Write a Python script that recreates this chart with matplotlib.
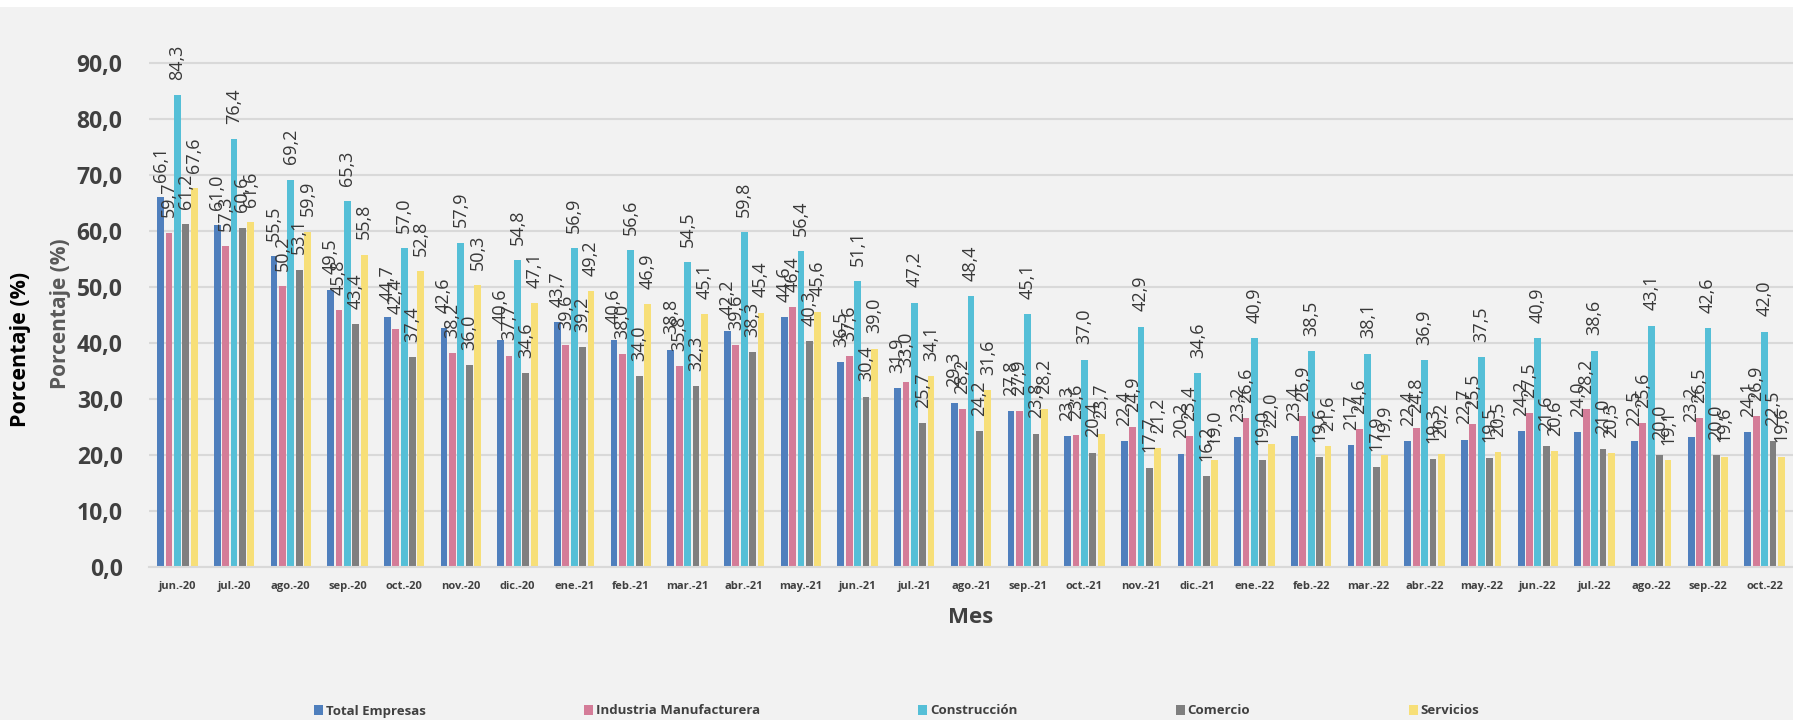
import numpy as np
import matplotlib.pyplot as plt
from matplotlib.patches import Rectangle

plt.rcParams['font.family'] = ['Open Sans', 'DejaVu Sans']

meses = ['jun.-20', 'jul.-20', 'ago.-20', 'sep.-20', 'oct.-20', 'nov.-20', 'dic.-20',
         'ene.-21', 'feb.-21', 'mar.-21', 'abr.-21', 'may.-21', 'jun.-21', 'jul.-21',
         'ago.-21', 'sep.-21', 'oct.-21', 'nov.-21', 'dic.-21', 'ene.-22', 'feb.-22',
         'mar.-22', 'abr.-22', 'may.-22', 'jun.-22', 'jul.-22', 'ago.-22', 'sep.-22',
         'oct.-22']

total = [66.1, 61.0, 55.5, 49.5, 44.7, 42.6, 40.6, 43.7, 40.6, 38.8, 42.2, 44.6, 36.5,
         31.9, 29.3, 27.8, 23.3, 22.4, 20.2, 23.2, 23.4, 21.7, 22.4, 22.7, 24.2, 24.0,
         22.5, 23.2, 24.1]
industria = [59.7, 57.3, 50.2, 45.8, 42.4, 38.2, 37.7, 39.6, 38.0, 35.8, 39.6, 46.4, 37.6,
             33.0, 28.2, 27.9, 23.6, 24.9, 23.4, 26.6, 26.9, 24.6, 24.8, 25.5, 27.5, 28.2,
             25.6, 26.5, 26.9]
construccion = [84.3, 76.4, 69.2, 65.3, 57.0, 57.9, 54.8, 56.9, 56.6, 54.5, 59.8, 56.4, 51.1,
                47.2, 48.4, 45.1, 37.0, 42.9, 34.6, 40.9, 38.5, 38.1, 36.9, 37.5, 40.9, 38.6,
                43.1, 42.6, 42.0]
comercio = [61.2, 60.6, 53.1, 43.4, 37.4, 36.0, 34.6, 39.2, 34.0, 32.3, 38.3, 40.3, 30.4,
            25.7, 24.2, 23.8, 20.4, 17.7, 16.2, 19.0, 19.6, 17.9, 19.3, 19.5, 21.6, 21.0,
            20.0, 20.0, 22.5]
servicios = [67.6, 61.6, 59.9, 55.8, 52.8, 50.3, 47.1, 49.2, 46.9, 45.1, 45.4, 45.6, 39.0,
             34.1, 31.6, 28.2, 23.7, 21.2, 19.0, 22.0, 21.6, 19.9, 20.2, 20.5, 20.6, 20.3,
             19.1, 19.6, 19.6]

series = ['Total Empresas', 'Industria Manufacturera', 'Construcción', 'Comercio', 'Servicios']
valores = [total, industria, construccion, comercio, servicios]
colores = ['#4f7fbd', '#d47c98', '#55bfd7', '#7f7f7f', '#f7df78']

fig = plt.figure(figsize=(17.93, 7.2), dpi=100, facecolor='white')
fig.patches.append(Rectangle((0, 0), 1, 1 - 7 / 720, transform=fig.transFigure,
                             facecolor='#f2f2f2', edgecolor='none', zorder=-10))
ax = fig.add_axes([149 / 1793, 0.2129, 1 - 149 / 1793, 0.7771])
ax.set_facecolor('#f2f2f2')

x = np.arange(len(meses))
paso = 0.148
for i, (nombre, vals, col) in enumerate(zip(series, valores, colores)):
    xs = x + (i - 2) * paso
    ax.bar(xs, vals, width=0.12, color=col, label=nombre, zorder=2)
    for xi, v in zip(xs, vals):
        ax.annotate(f'{v:.1f}'.replace('.', ','), (xi, v), xytext=(0, 11),
                    textcoords='offset points', rotation=90, ha='center', va='bottom',
                    fontsize=13, color='#383838', zorder=3)

ax.set_xlim(-0.5, len(meses) - 0.5)
ax.set_ylim(0, 100)
ax.set_yticks(np.arange(0, 91, 10))
ax.set_yticklabels([f'{t:.1f}'.replace('.', ',') for t in np.arange(0, 91, 10)],
                   fontsize=16.5, fontweight='bold', color='#404040')
ax.set_xticks(x)
ax.set_xticklabels(meses, fontsize=8, fontweight='bold', color='#404040')
ax.tick_params(axis='both', length=0)
ax.tick_params(axis='y', pad=19)
ax.tick_params(axis='x', pad=10)
ax.grid(axis='y', color='#d9d9d9', linewidth=1.5, zorder=0)
ax.set_axisbelow(True)
for s in ['top', 'right', 'left']:
    ax.spines[s].set_visible(False)
ax.spines['bottom'].set_color('#d9d9d9')
ax.spines['bottom'].set_linewidth(1.5)

fig.text(0.0117, 0.514, 'Porcentaje (%)', rotation=90, ha='center', va='center',
         fontsize=15.5, fontweight='bold', color='black')
fig.text(0.0335, 0.564, 'Porcentaje (%)', rotation=90, ha='center', va='center',
         fontsize=15, fontweight='bold', color='#595959')
fig.text(971 / 1793, 0.142, 'Mes', ha='center', va='center', fontsize=16,
         fontweight='bold', color='#404040')

fig.legend(loc='center', bbox_to_anchor=(0.5, 0.0125), ncol=5, frameon=False,
           prop={'size': 9.5, 'weight': 'bold'}, handlelength=0.7, handleheight=0.7,
           handletextpad=0.2, columnspacing=12, labelcolor='#404040')

fig.savefig('out.png', dpi=100, facecolor=fig.get_facecolor())
